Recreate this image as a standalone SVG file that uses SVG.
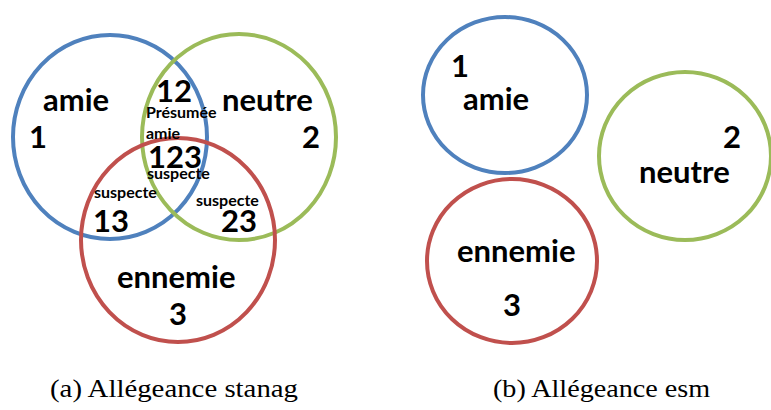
<svg xmlns="http://www.w3.org/2000/svg" width="771" height="410" viewBox="0 0 771 410">
  <style>
    .ring { fill: none; stroke-width: 4; }
    .blue { stroke: #4F81BD; }
    .green { stroke: #9BBB59; }
    .red { stroke: #C0504D; }
    .big { font-family: Lato, "Open Sans", sans-serif; font-weight: bold; font-size: 31px; fill: #000; }
    .small { font-family: Lato, "Open Sans", sans-serif; font-weight: bold; font-size: 16px; fill: #000; }
    .cap { font-family: "Liberation Serif", serif; font-size: 25px; fill: #000; }
  </style>
  <rect width="771" height="410" fill="#fff"/>

  <!-- (a) three overlapping sets -->
  <g id="set-amie">
    <ellipse class="ring blue" cx="110" cy="137" rx="97" ry="102"/>
    <text class="big" x="43" y="111">amie</text>
    <text class="big" x="29" y="148">1</text>
  </g>
  <g id="set-neutre">
    <ellipse class="ring green" cx="239" cy="137" rx="97" ry="103"/>
    <text class="big" x="222" y="111">neutre</text>
    <text class="big" x="302" y="148">2</text>
  </g>
  <g id="set-ennemie">
    <ellipse class="ring red" cx="178" cy="240" rx="97" ry="102"/>
    <text class="big" x="117" y="288">ennemie</text>
    <text class="big" x="169" y="325">3</text>
  </g>
  <g id="zone-12">
    <text class="big" x="156" y="102">12</text>
    <text class="small" x="146" y="118">Présumée</text>
    <text class="small" x="146" y="139">amie</text>
  </g>
  <g id="zone-123">
    <text class="big" x="148" y="168">123</text>
    <text class="small" x="147" y="179">suspecte</text>
  </g>
  <g id="zone-13">
    <text class="small" x="94" y="198">suspecte</text>
    <text class="big" x="93" y="232">13</text>
  </g>
  <g id="zone-23">
    <text class="small" x="196" y="206">suspecte</text>
    <text class="big" x="221" y="232">23</text>
  </g>

  <!-- (b) disjoint sets -->
  <g id="esm-amie">
    <ellipse class="ring blue" cx="505" cy="95" rx="82" ry="78"/>
    <text class="big" x="451" y="77">1</text>
    <text class="big" x="463" y="110">amie</text>
  </g>
  <g id="esm-neutre">
    <ellipse class="ring green" cx="685" cy="156" rx="86" ry="84"/>
    <text class="big" x="723" y="148">2</text>
    <text class="big" x="639" y="183">neutre</text>
  </g>
  <g id="esm-ennemie">
    <ellipse class="ring red" cx="512" cy="261" rx="85" ry="82"/>
    <text class="big" x="457" y="262">ennemie</text>
    <text class="big" x="503" y="316">3</text>
  </g>

  <g id="connectors"/>

  <!-- captions -->
  <text class="cap" x="50" y="397" textLength="248" lengthAdjust="spacingAndGlyphs">(a) Allégeance stanag</text>
  <text class="cap" x="493" y="397" textLength="217" lengthAdjust="spacingAndGlyphs">(b) Allégeance esm</text>
</svg>
